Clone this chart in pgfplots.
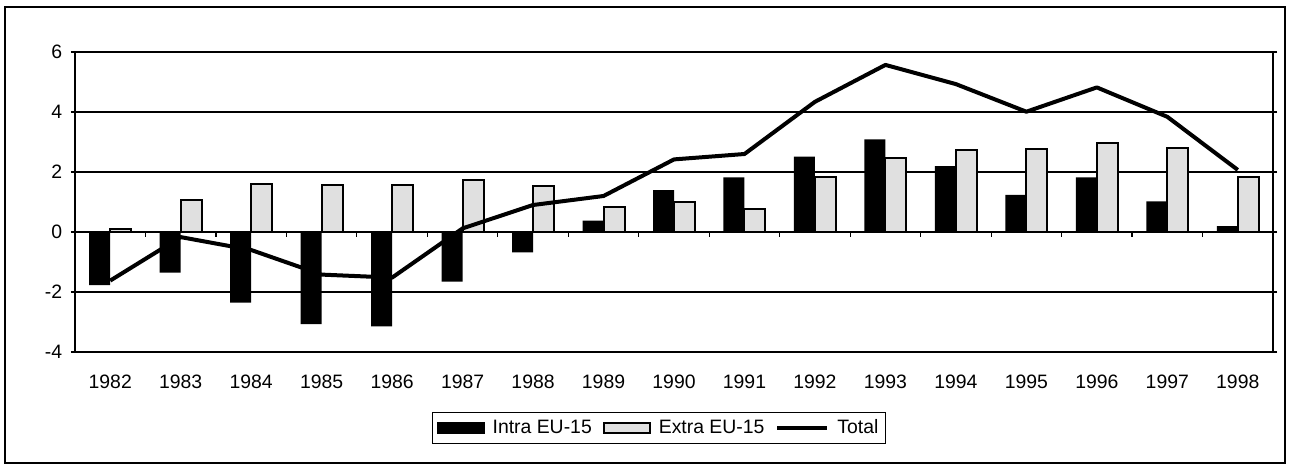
\documentclass[border=0pt]{standalone}
\usepackage{fontspec}
\setmainfont{Liberation Sans}
\usepackage{pgfplots}
\pgfplotsset{compat=1.18}
\begin{document}
\fontsize{9.7}{11.6}\selectfont
\begin{tikzpicture}
\useasboundingbox (-37.5pt,-56.5pt) rectangle (607.5pt,176pt);
\fill[white] (-37.5pt,-56.5pt) rectangle (607.5pt,176pt);
\draw[line width=1pt] (-35pt,-55.5pt) rectangle (605pt,172.5pt);
\begin{axis}[
  at={(0,0)}, anchor=south west, scale only axis,
  width=599pt, height=150pt,
  xmin=-0.5, xmax=16.5, ymin=-4, ymax=6,
  ytick={-4,-2,0,2,4,6},
  xtick={0,...,16},
  xticklabels={1982,1983,1984,1985,1986,1987,1988,1989,1990,1991,1992,1993,1994,1995,1996,1997,1998},
  ymajorgrids, major grid style={black, line width=0.6pt},
  axis line style={black, line width=0.6pt},
  xtick style={draw=none},
  ytick style={black, line width=0.6pt},
  tick align=outside, major tick length=2pt,
  /pgf/number format/assume math mode=true,
  ticklabel style={font=\fontsize{9.7}{11.6}\selectfont},
  xticklabel style={yshift=-6pt},
  yticklabel style={xshift=-1pt},
  legend columns=3,
  legend style={at={(0.4875,-0.2533)}, anchor=center, draw=black, line width=0.6pt,
    font=\fontsize{9.7}{11.6}\selectfont, inner xsep=2pt, inner ysep=1.5pt,
    /tikz/every odd column/.append style={column sep=2.5pt},
    /tikz/every even column/.append style={column sep=4pt},
    nodes={inner xsep=1.5pt}},
]
\addplot[ybar, bar width=10.5pt, bar shift=-5.25pt, fill=black, draw=none,
  legend image code/.code={\fill[black] (0pt,-3pt) rectangle (24pt,3pt);}]
  coordinates {(0,-1.77) (1,-1.35) (2,-2.35) (3,-3.07) (4,-3.15) (5,-1.65) (6,-0.68) (7,0.38) (8,1.4) (9,1.82) (10,2.51) (11,3.09) (12,2.2) (13,1.24) (14,1.82) (15,1.02) (16,0.2)};
\addlegendentry{Intra EU-15}
\addplot[ybar, bar width=10.5pt, bar shift=5.25pt, fill=black!12, draw=black, line width=1pt,
  legend image code/.code={\draw[black, fill=black!12, line width=1pt] (0.5pt,-2.5pt) rectangle (23.5pt,2.5pt);}]
  coordinates {(0,0.1) (1,1.07) (2,1.6) (3,1.57) (4,1.57) (5,1.73) (6,1.53) (7,0.85) (8,1.0) (9,0.76) (10,1.82) (11,2.46) (12,2.73) (13,2.77) (14,2.98) (15,2.79) (16,1.82)};
\addlegendentry{Extra EU-15}
\addplot[sharp plot, black, line width=2pt, line join=round, mark=none,
  legend image code/.code={\draw[black, line width=2pt] (0pt,0pt) -- (25pt,0pt);}]
  coordinates {(0,-1.62) (1,-0.17) (2,-0.6) (3,-1.42) (4,-1.52) (5,0.12) (6,0.9) (7,1.2) (8,2.42) (9,2.6) (10,4.34) (11,5.57) (12,4.93) (13,4.01) (14,4.82) (15,3.84) (16,2.07)};
\addlegendentry{Total}
\pgfplotsinvokeforeach{-0.5,0.5,...,16.5}{\draw[black, line width=0.6pt] (axis cs:#1,0) -- ++(0pt,-2.5pt);}
\end{axis}
\end{tikzpicture}
\end{document}
